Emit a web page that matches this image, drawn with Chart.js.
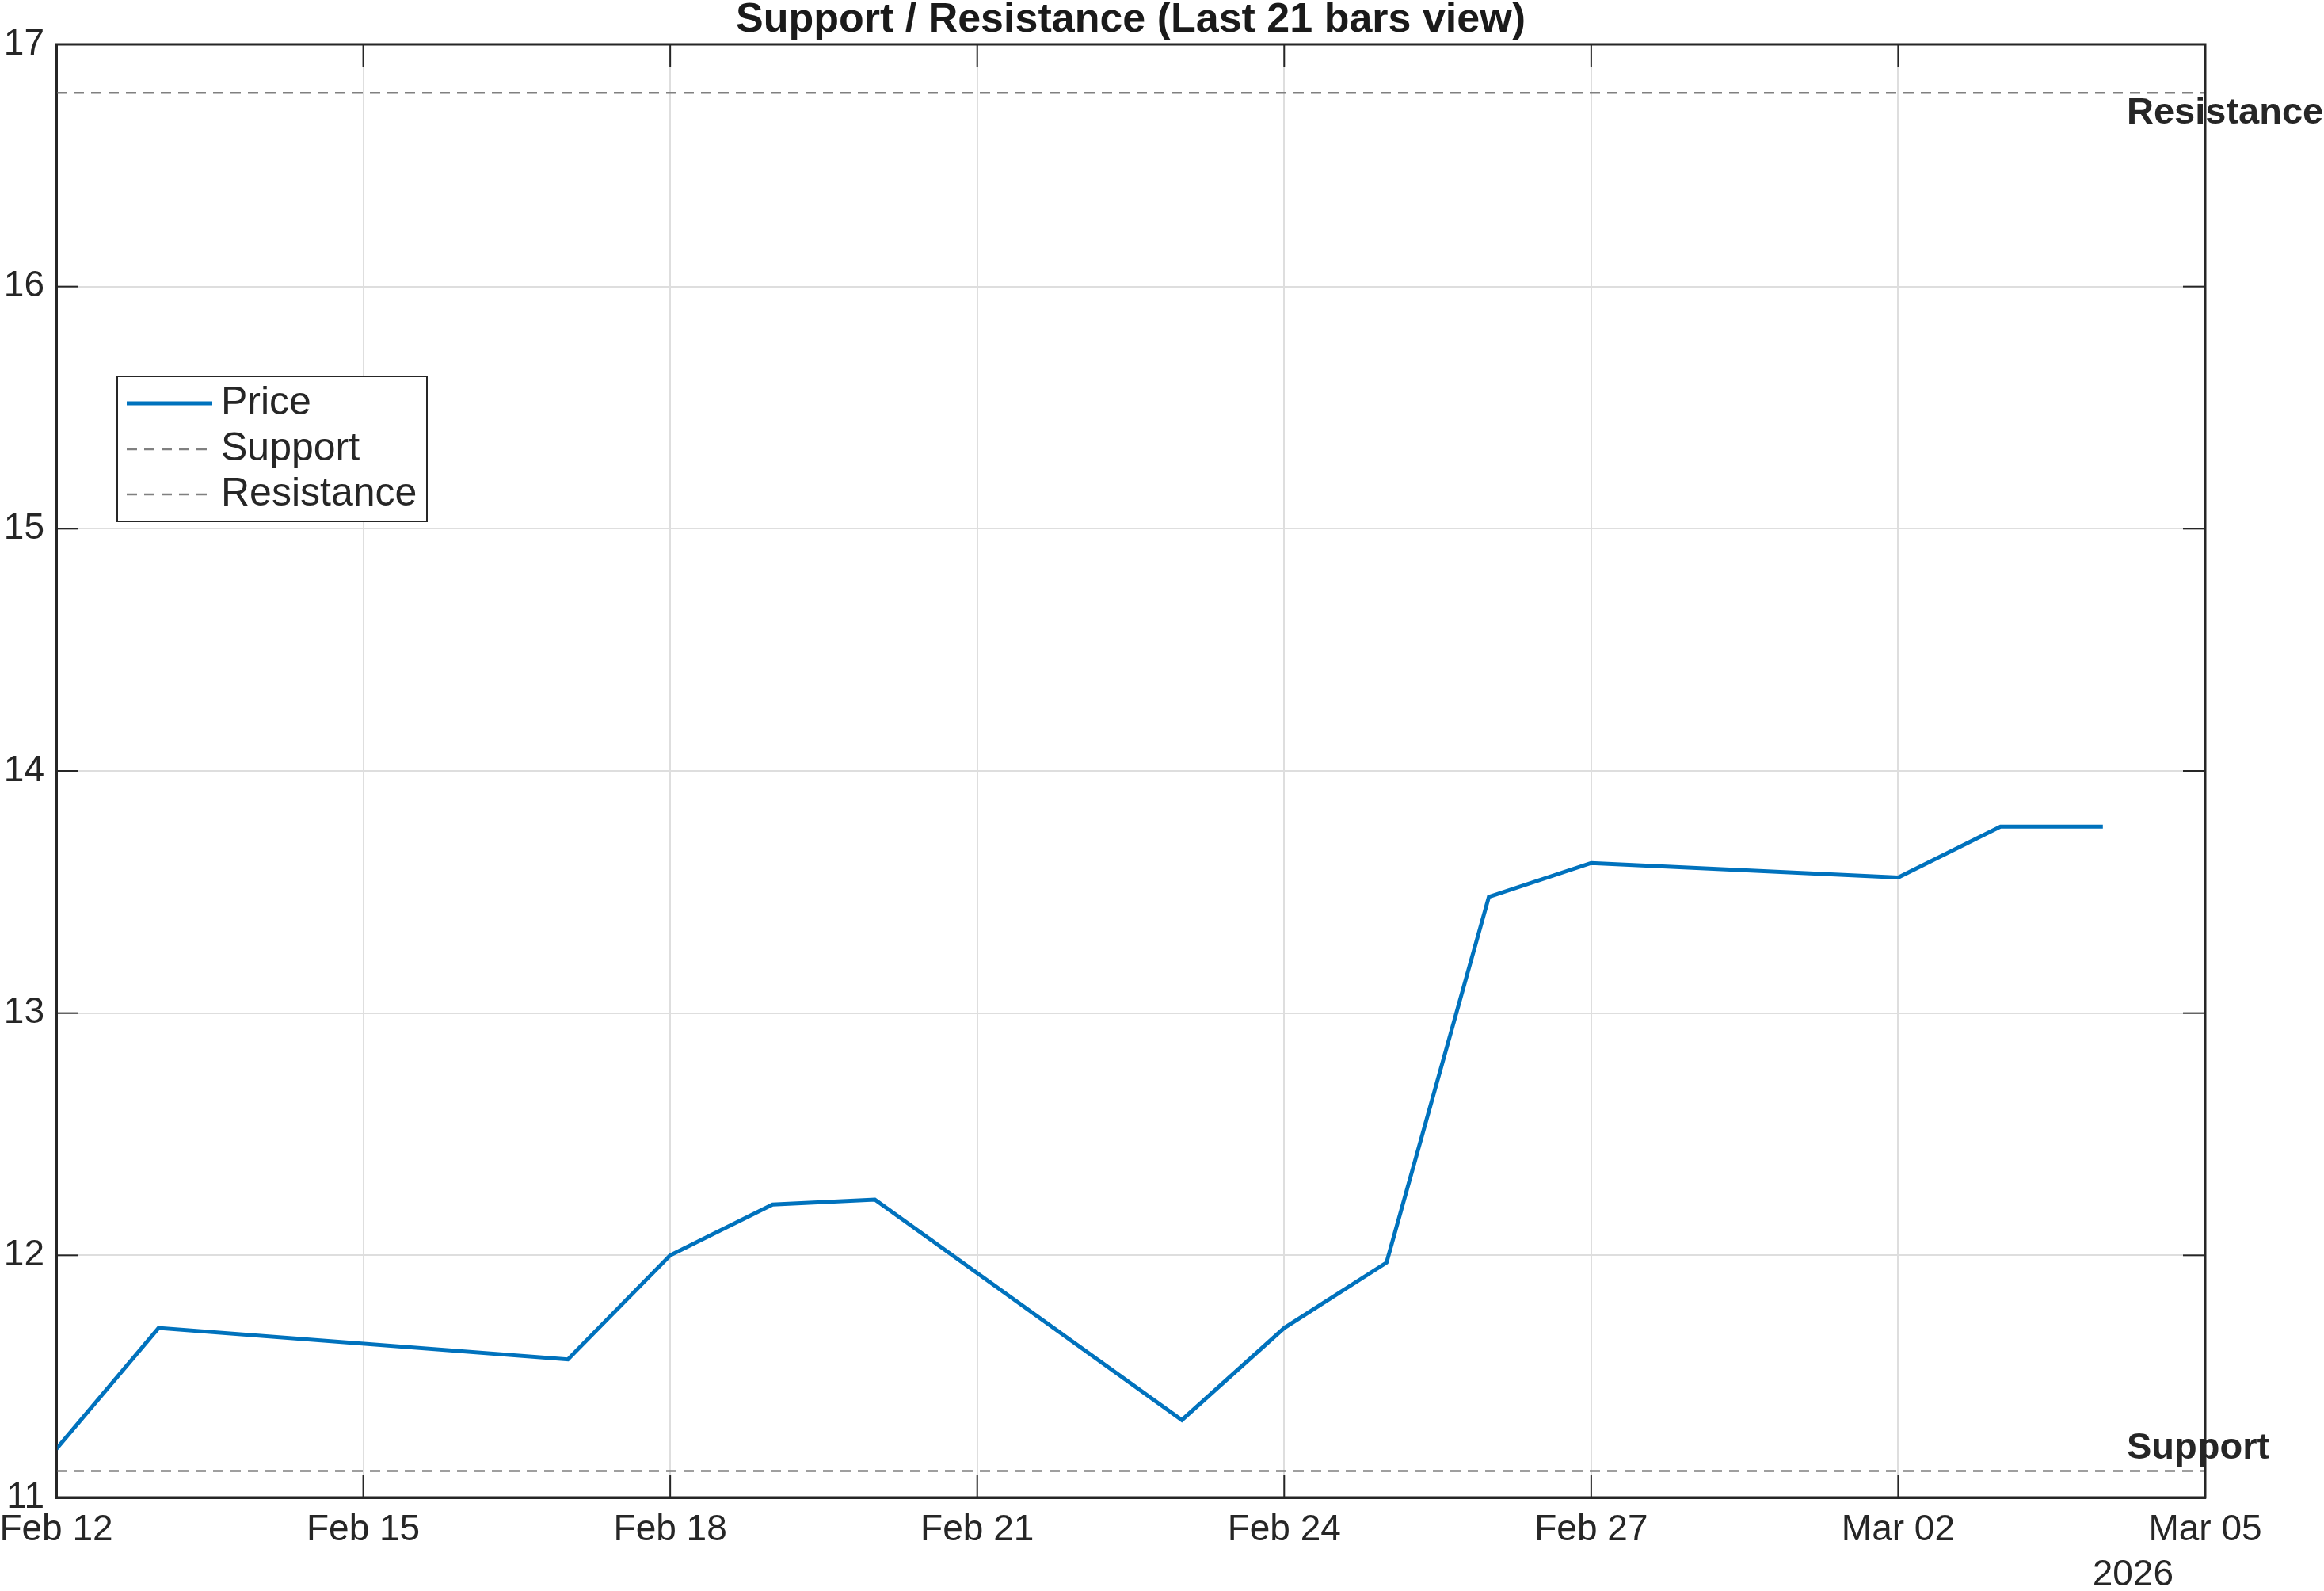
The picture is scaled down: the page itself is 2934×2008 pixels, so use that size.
<!DOCTYPE html>
<html>
<head>
<meta charset="utf-8">
<title>Support / Resistance</title>
<script src="https://cdn.jsdelivr.net/npm/chart.js@4"></script>
<style>
  html, body { margin: 0; padding: 0; background: #fff; }
  #wrap { width: 2934px; height: 2008px; }
</style>
</head>
<body>
<div id="wrap"><canvas id="chart" width="2934" height="2008"></canvas></div>
<script>
// trading days shown (Feb 16 holiday, weekends skipped)
const dates = ['2026-02-12', '2026-02-13', '2026-02-17', '2026-02-18', '2026-02-19', '2026-02-20',
               '2026-02-23', '2026-02-24', '2026-02-25', '2026-02-26', '2026-02-27',
               '2026-03-02', '2026-03-03', '2026-03-04'];
const price = [11.20, 11.70, 11.57, 12.00, 12.21, 12.23, 11.32, 11.70, 11.97, 13.48, 13.62, 13.56, 13.77, 13.77];

const levelNames = ['Support', 'Resistance'];
const levelValues = [11.11, 16.80];

const viewStart = '2026-02-12';
const viewEnd = '2026-03-05';
const tickLabels = ['Feb 12', 'Feb 15', 'Feb 18', 'Feb 21', 'Feb 24', 'Feb 27', 'Mar 02', 'Mar 05'];
const yearLabel = '2026';

const FONT = "'Liberation Sans', Arial, Helvetica, sans-serif";
const INK = '#262626';
const BLUE = '#0072BD';
const GREY = '#808080';

function dayNum(s) {
    const [y, m, d] = s.split('-').map(Number);
    return Date.UTC(y, m - 1, d) / 86400000;
}
const x0 = dayNum(viewStart);
const span = dayNum(viewEnd) - x0;

const levelSet = (i) => ({
    label: levelNames[i],
    data: [{ x: 0, y: levelValues[i] }, { x: span, y: levelValues[i] }],
    borderColor: GREY,
    borderWidth: 2.5,
    borderDash: [13, 9],
    pointRadius: 0
});

// box, inward ticks, level labels, year and legend
const decor = {
    id: 'decor',
    afterDraw(chart) {
        const { ctx, chartArea: a, scales: { x, y } } = chart;
        const seg = (x1, y1, x2, y2) => { ctx.beginPath(); ctx.moveTo(x1, y1); ctx.lineTo(x2, y2); ctx.stroke(); };
        ctx.save();
        ctx.strokeStyle = INK;
        ctx.lineWidth = 3;
        ctx.strokeRect(a.left, a.top, a.right - a.left, a.bottom - a.top);

        ctx.lineWidth = 2;
        const tl = 28;
        x.ticks.forEach(t => {
            const px = x.getPixelForValue(t.value);
            seg(px, a.bottom, px, a.bottom - tl);
            seg(px, a.top, px, a.top + tl);
        });
        y.ticks.forEach(t => {
            const py = y.getPixelForValue(t.value);
            seg(a.left, py, a.left + tl, py);
            seg(a.right, py, a.right - tl, py);
        });

        ctx.fillStyle = INK;
        ctx.font = `bold 47px ${FONT}`;
        ctx.textAlign = 'left';
        ctx.textBaseline = 'middle';
        ctx.fillText(levelNames[0], a.right - 99, y.getPixelForValue(levelValues[0]) - 28);
        ctx.fillText(levelNames[1], a.right - 99, y.getPixelForValue(levelValues[1]) + 26);

        ctx.font = `46px ${FONT}`;
        ctx.textAlign = 'right';
        ctx.fillText(yearLabel, a.right - 40, a.bottom + 98);

        // legend
        const bx = a.left + 77, by = a.top + 419, bw = 391, bh = 183;
        ctx.fillStyle = '#fff';
        ctx.fillRect(bx, by, bw, bh);
        ctx.strokeStyle = INK;
        ctx.lineWidth = 2;
        ctx.strokeRect(bx, by, bw, bh);
        const rows = [34, 92, 149];
        ctx.font = `50px ${FONT}`;
        ctx.textAlign = 'left';
        chart.data.datasets.forEach((ds, i) => {
            const ry = by + rows[i];
            ctx.strokeStyle = ds.borderColor;
            ctx.lineWidth = ds.borderWidth;
            ctx.setLineDash(ds.borderDash || []);
            seg(bx + 12, ry, bx + 120, ry);
            ctx.setLineDash([]);
            ctx.fillStyle = INK;
            ctx.fillText(ds.label, bx + 131, ry);
        });
        ctx.restore();
    }
};

new Chart(document.getElementById('chart'), {
    type: 'line',
    data: {
        datasets: [
            {
                label: 'Price',
                data: dates.map((d, i) => ({ x: dayNum(d) - x0, y: price[i] })),
                borderColor: BLUE,
                borderWidth: 5,
                pointRadius: 0,
                tension: 0
            },
            levelSet(0),
            levelSet(1)
        ]
    },
    options: {
        responsive: false,
        animation: false,
        // padding + blank right axis keep the title centred over the plot box
        layout: { padding: { top: 0, right: 79, left: 0, bottom: 0 } },
        plugins: {
            legend: { display: false },
            tooltip: { enabled: false },
            title: {
                display: true,
                text: 'Support / Resistance (Last 21 bars view)',
                color: '#1a1a1a',
                font: { family: FONT, size: 52, weight: 'bold', lineHeight: 1 },
                padding: { top: 0, bottom: 4 }
            }
        },
        scales: {
            x: {
                type: 'linear',
                min: 0,
                max: span,
                afterFit(s) { s.height = 118; s.paddingLeft = 0; s.paddingRight = 0; },
                ticks: {
                    stepSize: 3,
                    maxRotation: 0,
                    autoSkip: false,
                    padding: 14,
                    color: INK,
                    font: { family: FONT, size: 46 },
                    callback: (v, i) => tickLabels[i]
                },
                grid: { color: '#dedede', lineWidth: 2, drawTicks: false },
                border: { color: INK, width: 3 }
            },
            y: {
                min: 11,
                max: 17,
                afterFit(s) { s.width = 71; s.paddingTop = 0; s.paddingBottom = 0; },
                ticks: {
                    stepSize: 1,
                    padding: 15,
                    color: INK,
                    font: { family: FONT, size: 46 }
                },
                grid: { color: '#dedede', lineWidth: 2, drawTicks: false },
                border: { color: INK, width: 3 }
            },
            yRight: {
                axis: 'y',
                position: 'right',
                min: 11,
                max: 17,
                afterFit(s) { s.width = 71; s.paddingTop = 0; s.paddingBottom = 0; },
                ticks: { display: false },
                grid: { display: false, drawTicks: false },
                border: { display: false }
            }
        }
    },
    plugins: [decor]
});
</script>
</body>
</html>
